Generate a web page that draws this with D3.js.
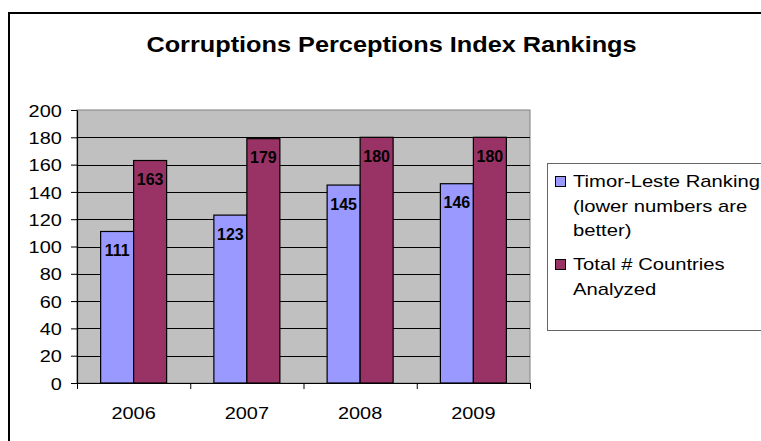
<!DOCTYPE html>
<html>
<head>
<meta charset="utf-8">
<script src="https://cdn.jsdelivr.net/npm/d3@7"></script>
<style>
  html, body { margin: 0; padding: 0; background: #fff; }
  svg { display: block; }
  text { font-family: Arial, "Liberation Sans", sans-serif; fill: #000; }
</style>
</head>
<body>
<svg id="chart" width="761" height="441"></svg>
<script>
// Chart data
const years = ["2006", "2007", "2008", "2009"];
const seriesNames = ["Timor-Leste Ranking (lower numbers are better)", "Total # Countries Analyzed"];
const timorLeste = [111, 123, 145, 146];
const totalCountries = [163, 179, 180, 180];
const yTicks = [0, 20, 40, 60, 80, 100, 120, 140, 160, 180, 200];
const legendLines = [["Timor-Leste Ranking", "(lower numbers are", "better)"], ["Total # Countries", "Analyzed"]];
const titleText = "Corruptions Perceptions Index Rankings";

const colors = ["#9999FF", "#993366"];
const seriesValues = [timorLeste, totalCountries];

const svg = d3.select("#chart");

// Outer chart frame (runs past the right and bottom edges)
svg.append("rect")
  .attr("x", 9).attr("y", 13)
  .attr("width", 900).attr("height", 600)
  .attr("fill", "#fff").attr("stroke", "#000").attr("stroke-width", 2);

// Title
svg.append("text")
  .attr("transform", "translate(391.5,52) scale(1.15,1)")
  .attr("text-anchor", "middle")
  .style("font-size", "22px").style("font-weight", "bold")
  .text(titleText);

// Plot area
const plot = { left: 77, right: 530, top: 110, bottom: 383 };

const x0 = d3.scaleBand().domain(years).range([plot.left, plot.right]).paddingInner(0).paddingOuter(0);
const x1 = d3.scaleBand().domain(d3.range(seriesNames.length)).range([0, x0.bandwidth()]).paddingInner(0).paddingOuter(0.716);
const y = d3.scaleLinear().domain([0, 200]).range([plot.bottom, plot.top]);

svg.append("rect")
  .attr("x", plot.left).attr("y", plot.top)
  .attr("width", plot.right - plot.left).attr("height", plot.bottom - plot.top)
  .attr("fill", "#C0C0C0").attr("stroke", "#808080").attr("stroke-width", 1);

// Horizontal gridlines
svg.append("g")
  .selectAll("line")
  .data(yTicks.filter(d => d > 0 && d < 200))
  .join("line")
  .attr("x1", plot.left).attr("x2", plot.right)
  .attr("y1", d => Math.round(y(d)) + 0.5).attr("y2", d => Math.round(y(d)) + 0.5)
  .attr("stroke", "#000").attr("stroke-width", 1);

// Bars
const groups = svg.append("g")
  .selectAll("g")
  .data(years)
  .join("g")
  .attr("transform", d => `translate(${x0(d)},0)`);

groups.selectAll("rect")
  .data((d, i) => seriesValues.map((vals, s) => ({ s, v: vals[i] })))
  .join("rect")
  .attr("x", d => x1(d.s))
  .attr("width", x1.bandwidth())
  .attr("y", d => y(d.v))
  .attr("height", d => y(0) - y(d.v))
  .attr("fill", d => colors[d.s])
  .attr("stroke", "#000").attr("stroke-width", 1.2);

// Value labels inside the bar tops
groups.selectAll("text.value")
  .data((d, i) => seriesValues.map((vals, s) => ({ s, v: vals[i] })))
  .join("text")
  .attr("class", "value")
  .attr("x", d => x1(d.s) + x1.bandwidth() / 2)
  .attr("y", d => y(d.v) + 24.5)
  .attr("text-anchor", "middle")
  .style("font-size", "16px").style("font-weight", "bold")
  .text(d => d.v);

// Y axis
const yAxis = svg.append("g")
  .attr("transform", `translate(${plot.left},0)`)
  .call(d3.axisLeft(y).tickValues(yTicks).tickSize(6).tickPadding(7).tickSizeOuter(0));
yAxis.select(".domain").attr("stroke", "#000").attr("stroke-width", 1.2);
yAxis.selectAll(".tick line").attr("stroke", "#000");
yAxis.selectAll(".tick text")
  .attr("transform", "scale(1.17,1)")
  .attr("dy", "0.36em")
  .style("font-size", "17px").style("font-family", "Arial, 'Liberation Sans', sans-serif");

// X axis: line and boundary ticks
const xb = d3.scaleLinear().domain([0, years.length]).range([plot.left, plot.right]);
const xAxis = svg.append("g")
  .attr("transform", `translate(0,${plot.bottom})`)
  .call(d3.axisBottom(xb).tickValues(d3.range(years.length + 1)).tickSize(6).tickSizeOuter(0).tickFormat(""));
xAxis.select(".domain").attr("stroke", "#000").attr("stroke-width", 1.2);
xAxis.selectAll(".tick line").attr("stroke", "#000");

// Category labels
svg.append("g")
  .selectAll("text")
  .data(years)
  .join("text")
  .attr("transform", d => `translate(${x0(d) + x0.bandwidth() / 2},419) scale(1.17,1)`)
  .attr("text-anchor", "middle")
  .style("font-size", "17px")
  .text(d => d);

// Legend
const legend = svg.append("g");
legend.append("rect")
  .attr("x", 547.5).attr("y", 163.5)
  .attr("width", 400).attr("height", 167)
  .attr("fill", "#fff").attr("stroke", "#666").attr("stroke-width", 1);

const entryTop = [187, 270];
seriesNames.forEach((name, s) => {
  legend.append("rect")
    .attr("x", 555.5).attr("y", entryTop[s] - 10.5)
    .attr("width", 10).attr("height", 10)
    .attr("fill", colors[s]).attr("stroke", "#000").attr("stroke-width", 1);
  legendLines[s].forEach((line, j) => {
    legend.append("text")
      .attr("transform", `translate(573,${entryTop[s] + j * 24.5}) scale(1.19,1)`)
      .style("font-size", "17px")
      .text(line);
  });
});
</script>
</body>
</html>
